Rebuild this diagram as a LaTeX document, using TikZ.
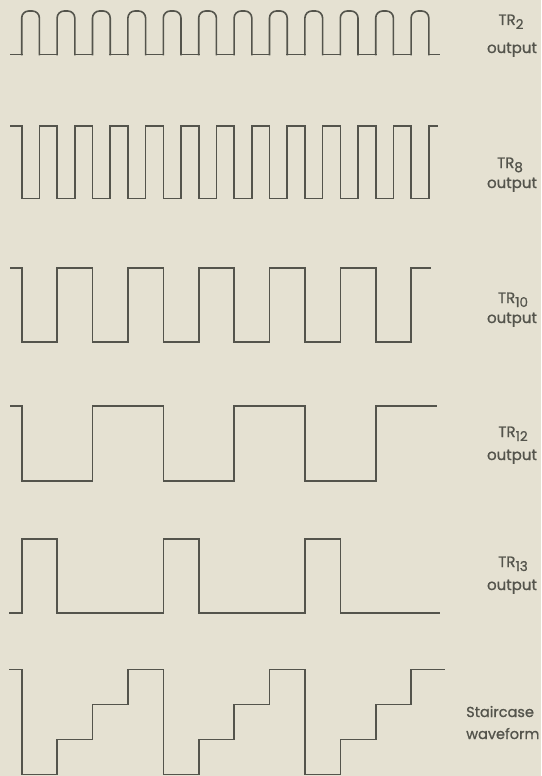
\documentclass[tikz,border=0pt]{standalone}
\usepackage{fontspec}
\setmainfont{Poppins}
\newfontfamily\lblfont{Poppins}[FakeBold=0.9]
\usetikzlibrary{positioning}
\definecolor{wavegray}{RGB}{84,84,76}
\definecolor{paper}{RGB}{229,225,210}
\tikzset{
  wave/.style={line width=1.6pt, draw=wavegray, line cap=rect, line join=miter},
  pulse/.style={wave, rounded corners=7pt},
  wlabel/.style={anchor=base, text=wavegray, font=\lblfont\fontsize{15}{19}\selectfont, inner sep=0pt},
  slabel/.style={wlabel, anchor=base west, font=\lblfont\fontsize{14.5}{18}\selectfont}
}
\newcommand{\trsub}[1]{TR\raisebox{-4pt}{\fontsize{13.5}{13.5}\selectfont #1}}

\begin{document}
\begin{tikzpicture}[x=1pt,y=-1pt]
  \fill[paper] (0,0) rectangle (541,776);
  \useasboundingbox (0,0) rectangle (541,776);
  \def\xo{21.7}
  \def\hs{17.7}

  % TR2: rounded pulses
  \draw[wave] (10.7,54.5) -- (\xo,54.5);
  \foreach \k in {0,...,11} {
    \draw[pulse] ({\xo+2*\k*\hs},54.5) -- ++(0,-43.5) -- ++(\hs,0) -- ++(0,43.5);
  }
  \foreach \k in {0,...,10} {
    \draw[wave] ({\xo+(2*\k+1)*\hs},54.5) -- ++(\hs,0);
  }
  \draw[wave] ({\xo+23*\hs},54.5) -- (439,54.5);

  % TR8
  \draw[wave] (10.7,126) \foreach \k in {0,...,11} {
      -- ({\xo+2*\k*\hs},126) -- ++(0,72.3) -- ++(\hs,0) -- ++(0,-72.3)
    } -- (437,126);

  % TR10
  \draw[wave] (10.7,268) \foreach \k in {0,...,5} {
      -- ({\xo+4*\k*\hs},268) -- ++(0,74) -- ++(2*\hs,0) -- ++(0,-74)
    } -- (430,268);

  % TR12
  \draw[wave] (10.3,406) \foreach \k in {0,...,2} {
      -- ({\xo+8*\k*\hs},406) -- ++(0,75) -- ++(4*\hs,0) -- ++(0,-75)
    } -- (436,406);

  % TR13
  \draw[wave] (10,613) \foreach \k in {0,...,2} {
      -- ({\xo+8*\k*\hs},613) -- ++(0,-74) -- ++(2*\hs,0) -- ++(0,74)
    } -- (439,613);

  % staircase
  \draw[wave] (9.3,669.5) \foreach \k in {0,...,2} {
      -- ({\xo+8*\k*\hs},669.5) -- ++(0,105) -- ++(2*\hs,0) -- ++(0,-35)
      -- ++(2*\hs,0) -- ++(0,-35) -- ++(2*\hs,0) -- ++(0,-35)
    } -- (444,669.5);

  % labels
  \node[wlabel] (tr2) at (511,25) {\trsub{2}};
  \node[wlabel] (tr2out) at (512,53) {output};
  \node[wlabel] (tr8) at (510,168) {\trsub{8}};
  \node[wlabel] (tr8out) at (512,188) {output};
  \node[wlabel] (tr10) at (513,303) {\trsub{10}};
  \node[wlabel] (tr10out) at (512,323) {output};
  \node[wlabel] (tr12) at (513,437) {\trsub{12}};
  \node[wlabel] (tr12out) at (512,460) {output};
  \node[wlabel] (tr13) at (513,567) {\trsub{13}};
  \node[wlabel] (tr13out) at (512,590) {output};
  \node[slabel] (stair) at (466,717) {Staircase};
  \node[slabel] (stairwave) at (466,739) {waveform};
\end{tikzpicture}
\end{document}
